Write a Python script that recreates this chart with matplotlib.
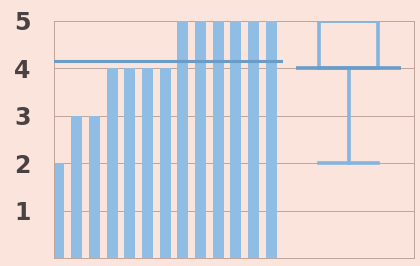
import matplotlib.pyplot as plt
import numpy as np

# data
scores = [2, 3, 3, 4, 4, 4, 4, 5, 5, 5, 5, 5, 5]
y_ticks = [1, 2, 3, 4, 5]

bg = '#fbe4dc'
bar_color = '#8fbde3'
mean_color = '#6a9cc8'
box_color = '#84b5e0'
grid_color = '#bea49a'

fig = plt.figure(figsize=(4.2, 2.66), dpi=100, facecolor=bg)
ax1 = fig.add_axes([54 / 420, 1 - 258 / 266, (283 - 54) / 420, (258 - 21) / 266])
ax2 = fig.add_axes([283 / 420, 1 - 258 / 266, (414 - 283) / 420, (258 - 21) / 266])

x = np.arange(len(scores))
ax1.bar(x, scores, width=0.62, color=bar_color, zorder=2)
ax1.axhline(np.mean(scores), color=mean_color, lw=2.2, zorder=3)
ax1.set_xlim(-0.28, 12.66)

bp = ax2.boxplot(scores, positions=[0], widths=0.9, whis=(0, 100),
                 showfliers=False, capwidths=0.9,
                 boxprops=dict(color=box_color, lw=2.6),
                 whiskerprops=dict(color=box_color, lw=2.6),
                 capprops=dict(color=box_color, lw=2.6),
                 medianprops=dict(color=mean_color, lw=2.6))
bp['medians'][0].set_xdata([-0.8, 0.8])
ax2.set_xlim(-1.0, 1.0)

for ax in (ax1, ax2):
    ax.set_facecolor(bg)
    ax.set_ylim(0, 5)
    ax.set_yticks(y_ticks)
    ax.yaxis.grid(True, color=grid_color, lw=0.7, zorder=1)
    ax.set_axisbelow(True)
    ax.set_xticks([])
    ax.spines['top'].set_visible(False)
    for s in ax.spines.values():
        s.set_color(grid_color)
        s.set_linewidth(0.7)

ax1.spines['right'].set_visible(False)
ax2.spines['left'].set_visible(False)
ax2.tick_params(axis='y', left=False, labelleft=False)
ax1.tick_params(axis='y', length=0, pad=17, labelsize=17, labelcolor='#4a4242')
for t in ax1.get_yticklabels():
    t.set_fontweight('bold')

fig.savefig('out.png', dpi=100, facecolor=bg)
